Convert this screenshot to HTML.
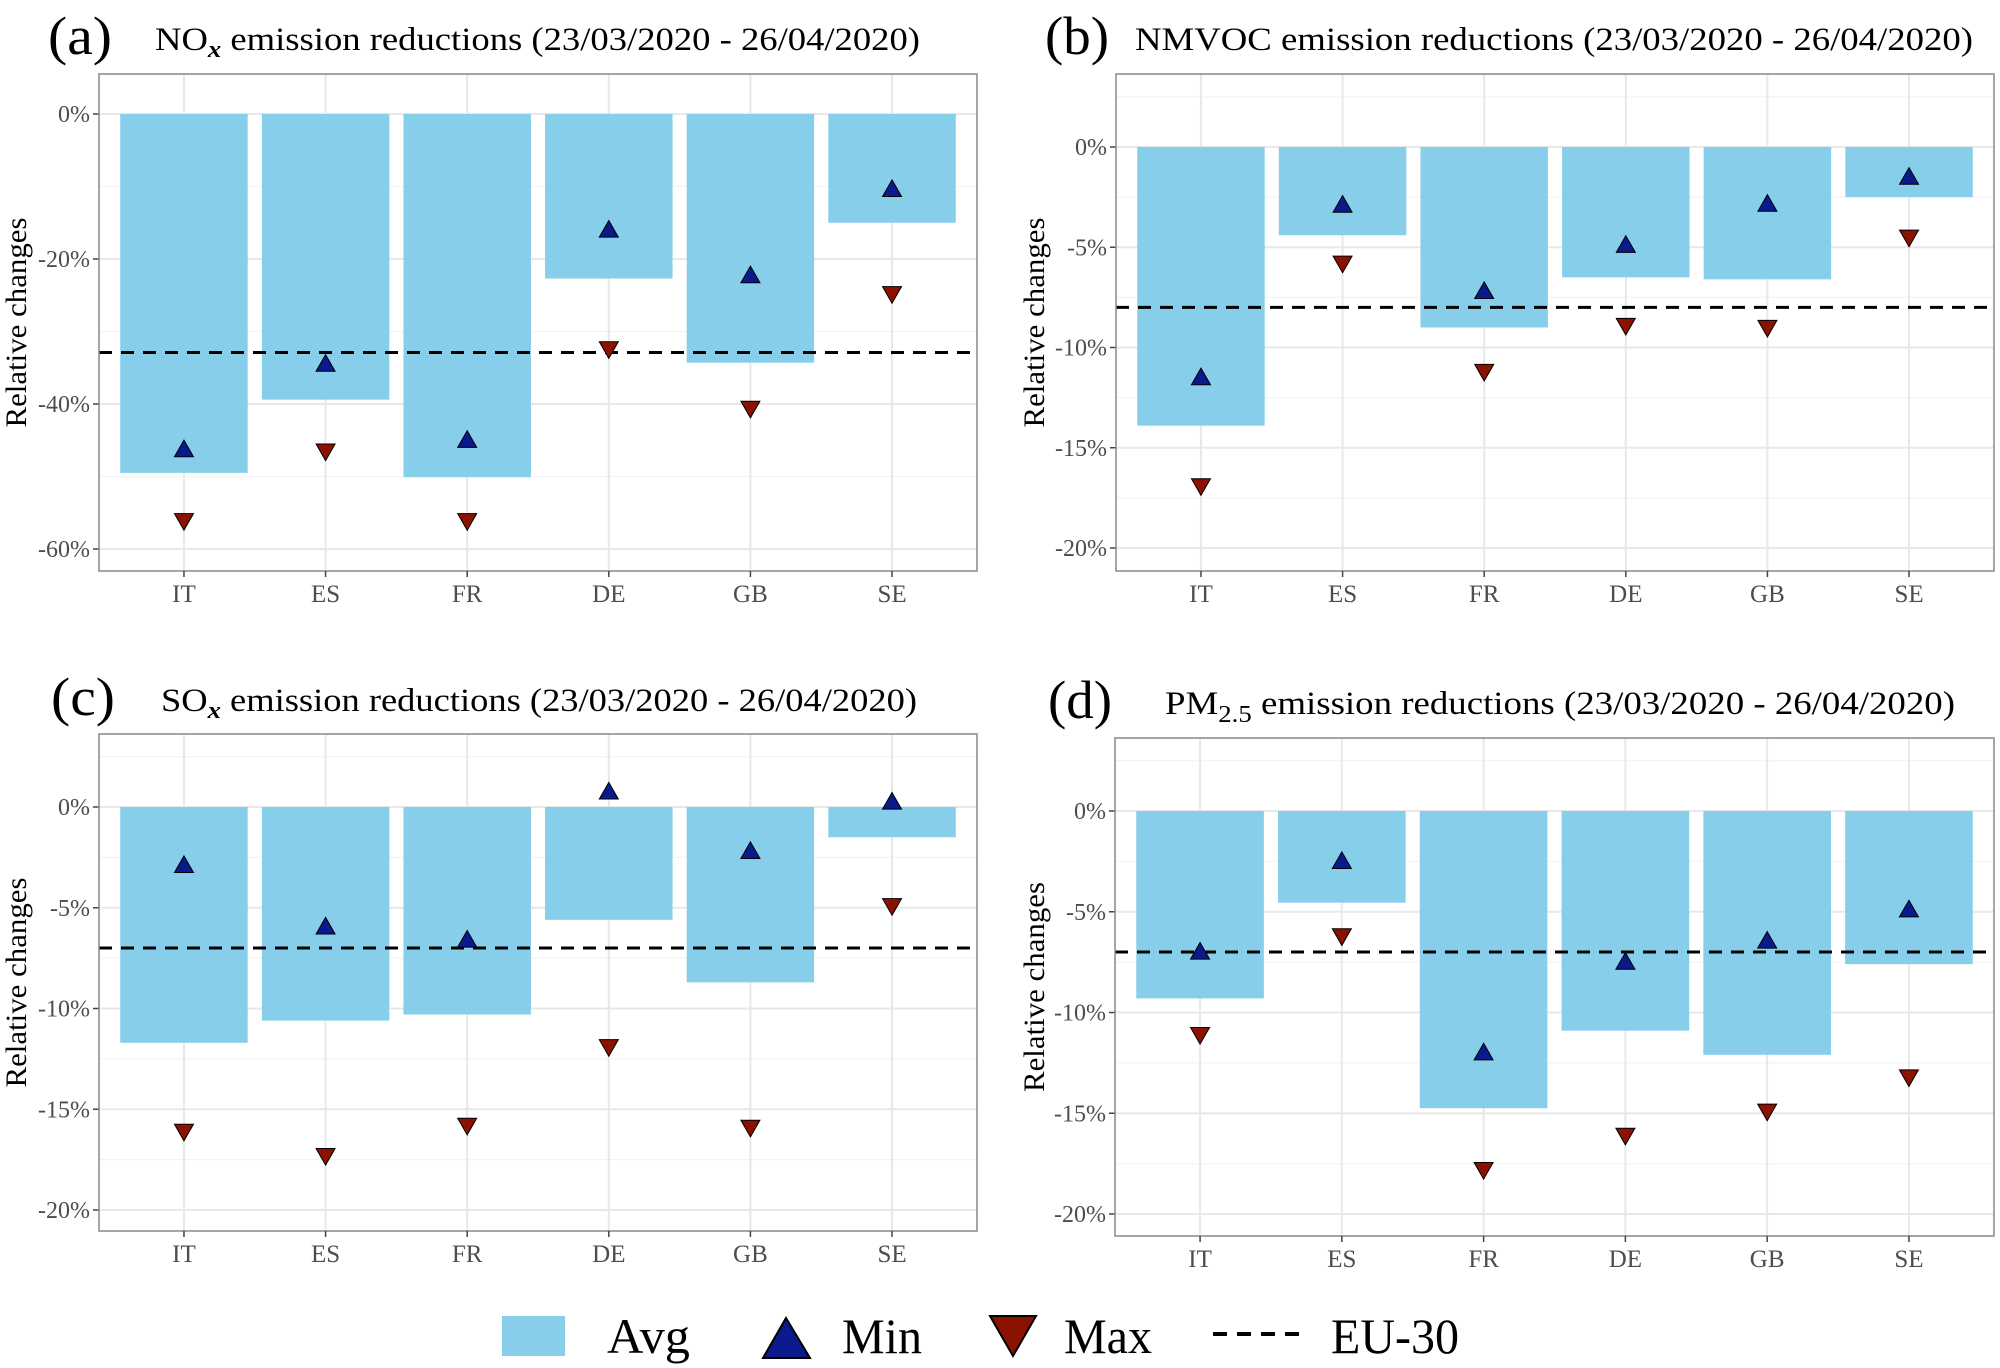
<!DOCTYPE html>
<html><head><meta charset="utf-8"><style>
html,body{margin:0;padding:0;background:#fff;}
svg{display:block;font-family:"Liberation Serif",serif;}
</style></head><body>
<svg id="chart" width="2000" height="1368" viewBox="0 0 2000 1368" xmlns="http://www.w3.org/2000/svg">
<g id="panels"></g>
<g id="legend">
  <rect x="502" y="1316" width="63" height="40" fill="#87CEEB"/>
  <text x="607" y="1353" font-size="50" textLength="83" lengthAdjust="spacingAndGlyphs">Avg</text>
  <polygon points="786,1318 810,1358 763,1358" fill="#0a1a8c" stroke="#000" stroke-width="2"/>
  <text x="842" y="1353" font-size="50" textLength="80" lengthAdjust="spacingAndGlyphs">Min</text>
  <polygon points="990,1316 1036,1316 1013,1356" fill="#8b1200" stroke="#000" stroke-width="2"/>
  <text x="1064" y="1353" font-size="50" textLength="88" lengthAdjust="spacingAndGlyphs">Max</text>
  <line x1="1213" y1="1334" x2="1300" y2="1334" stroke="#000" stroke-width="4" stroke-dasharray="14,10"/>
  <text x="1331" y="1353" font-size="50" textLength="128" lengthAdjust="spacingAndGlyphs">EU-30</text>
</g>
</svg>
<script>
const categories = ["IT","ES","FR","DE","GB","SE"];
const noxAvg = [-49.5,-39.4,-50.1,-22.7,-34.3,-15.0];
const noxMin = [-46.3,-34.5,-45.0,-16.0,-22.3,-10.4];
const noxMax = [-56.1,-46.5,-56.1,-32.4,-40.6,-24.8];
const noxEU = -32.9;
const noxTicks = [0,-20,-40,-60];
const nmvocAvg = [-13.9,-4.4,-9.0,-6.5,-6.6,-2.5];
const nmvocMin = [-11.5,-2.9,-7.2,-4.9,-2.85,-1.5];
const nmvocMax = [-16.9,-5.8,-11.2,-8.9,-9.0,-4.5];
const nmvocEU = -8.0;
const soxAvg = [-11.7,-10.6,-10.3,-5.6,-8.7,-1.5];
const soxMin = [-2.9,-5.95,-6.6,0.75,-2.2,0.25];
const soxMax = [-16.1,-17.3,-15.8,-11.9,-15.9,-4.9];
const soxEU = -7.0;
const pmAvg = [-9.3,-4.55,-14.75,-10.9,-12.1,-7.6];
const pmMin = [-7.0,-2.5,-12.0,-7.5,-6.45,-4.9];
const pmMax = [-11.1,-6.2,-17.8,-16.1,-14.9,-13.2];
const pmEU = -7.0;
const smallTicks = [0,-5,-10,-15,-20];

const NS = "http://www.w3.org/2000/svg";
function mk(tag, attrs, parent){
  const e = document.createElementNS(NS, tag);
  for (const k in attrs) e.setAttribute(k, attrs[k]);
  parent.appendChild(e);
  return e;
}
const root = document.getElementById("panels");

function panel(cfg){
  const g = mk("g", {}, root);
  
  
  const L=cfg.left, R=cfg.right, T=cfg.top, B=cfg.bottom;
  const y = v => cfg.zeroY - v*cfg.pxPer;
  const unit = (R-L)/6.2;
  const x = i => L + unit*(0.6+i);
  const step = cfg.ticks[0]-cfg.ticks[1];
  for (let v = cfg.ticks[0]+step/2; v > cfg.ticks[cfg.ticks.length-1]-step; v -= step){
    const yy = y(v);
    if (yy < T || yy > B) continue;
    const ln = mk("line", {x1:L, x2:R, y1:yy, y2:yy, stroke:"#f3f3f3", "stroke-width":1.2}, g);
    
    
  }
  cfg.ticks.forEach(v=>{
    const yy=y(v);
    const ln = mk("line", {x1:L, x2:R, y1:yy, y2:yy, stroke:"#e8e8e8", "stroke-width":2}, g);
    
    
    const tk = mk("line", {x1:L-6, x2:L, y1:yy, y2:yy, stroke:"#444", "stroke-width":1.5}, g);
    
    
    const t = mk("text", {x:L-9, y:yy+8, "font-size":24, fill:"#4d4d4d", "text-anchor":"end"}, g);
    t.textContent = v + "%";
    
    
  });
  categories.forEach((c,i)=>{
    const ln = mk("line", {x1:x(i), x2:x(i), y1:T, y2:B, stroke:"#e8e8e8", "stroke-width":2}, g);
    
    
  });
  categories.forEach((c,i)=>{
    const v = cfg.avg[i];
    const r = mk("rect", {x:x(i)-unit*0.45, width:unit*0.9, y:Math.min(y(0),y(v)), height:Math.abs(y(v)-y(0)), fill:"#87CEEB"}, g);
    
    
  });
  const eu = mk("line", {x1:L, x2:R, y1:y(cfg.eu), y2:y(cfg.eu), stroke:"#000", "stroke-width":3, "stroke-dasharray":"13,9"}, g);
  
  
  const s = 9.5;
  categories.forEach((c,i)=>{
    const cx=x(i), my=y(cfg.min[i]);
    const up = mk("polygon", {points:`${cx},${my-s} ${cx+s},${my+s*0.75} ${cx-s},${my+s*0.75}`, fill:"#0a1a8c", stroke:"#000", "stroke-width":1}, g);
    
    
    const xy=y(cfg.max[i]);
    const dn = mk("polygon", {points:`${cx-s},${xy-s*0.75} ${cx+s},${xy-s*0.75} ${cx},${xy+s}`, fill:"#8b1200", stroke:"#000", "stroke-width":1}, g);
    
    
  });
  const bd = mk("rect", {x:L, y:T, width:R-L, height:B-T, fill:"none", stroke:"#888", "stroke-width":1.5}, g);
  
  
  categories.forEach((c,i)=>{
    const tk = mk("line", {x1:x(i), x2:x(i), y1:B, y2:B+6, stroke:"#444", "stroke-width":1.5}, g);
    
    
    const t = mk("text", {x:x(i), y:B+31, "font-size":25, fill:"#4d4d4d", "text-anchor":"middle"}, g);
    t.textContent = c;
    
    
  });
  const cy=(T+B)/2;
  const yt = mk("text", {x:cfg.ytx, y:cy, "font-size":30, fill:"#000", "text-anchor":"middle", textLength:210, lengthAdjust:"spacingAndGlyphs", transform:`rotate(-90 ${cfg.ytx} ${cy})`}, g);
  yt.textContent = "Relative changes";
  
  
  const pl = mk("text", {x:cfg.lblX, y:cfg.titleY+4, "font-size":54, fill:"#000", textLength:64, lengthAdjust:"spacingAndGlyphs"}, g);
  pl.textContent = cfg.label;
  
  
  const tt = mk("text", {x:cfg.titleX, y:cfg.titleY, "font-size":33, fill:"#000", textLength:cfg.titleW, lengthAdjust:"spacingAndGlyphs"}, g);
  tt.innerHTML = cfg.title;
  
  
}

const rest = " emission reductions (23/03/2020 - 26/04/2020)";
panel({name:"panel-a-nox", label:"(a)", title:'NO<tspan font-style="italic" font-weight="bold" font-size="24" dy="7">x</tspan><tspan dy="-7">'+rest+'</tspan>',
  left:99,right:977,top:74,bottom:571,zeroY:114,pxPer:7.25,ticks:noxTicks,avg:noxAvg,min:noxMin,max:noxMax,eu:noxEU,
  ytx:26,lblX:48,titleX:155,titleW:765,titleY:50});
panel({name:"panel-b-nmvoc", label:"(b)", title:'NMVOC'+rest,
  left:1116,right:1994,top:74,bottom:571,zeroY:147,pxPer:20.05,ticks:smallTicks,avg:nmvocAvg,min:nmvocMin,max:nmvocMax,eu:nmvocEU,
  ytx:1044,lblX:1045,titleX:1135,titleW:838,titleY:50});
panel({name:"panel-c-sox", label:"(c)", title:'SO<tspan font-style="italic" font-weight="bold" font-size="24" dy="7">x</tspan><tspan dy="-7">'+rest+'</tspan>',
  left:99,right:977,top:734,bottom:1231,zeroY:807,pxPer:20.15,ticks:smallTicks,avg:soxAvg,min:soxMin,max:soxMax,eu:soxEU,
  ytx:26,lblX:51,titleX:161,titleW:756,titleY:711});
panel({name:"panel-d-pm25", label:"(d)", title:'PM<tspan font-size="24" dy="8">2.5</tspan><tspan dy="-8">'+rest+'</tspan>',
  left:1115,right:1994,top:738,bottom:1236,zeroY:811,pxPer:20.15,ticks:smallTicks,avg:pmAvg,min:pmMin,max:pmMax,eu:pmEU,
  ytx:1044,lblX:1048,titleX:1165,titleW:790,titleY:714});
</script>
</body></html>
